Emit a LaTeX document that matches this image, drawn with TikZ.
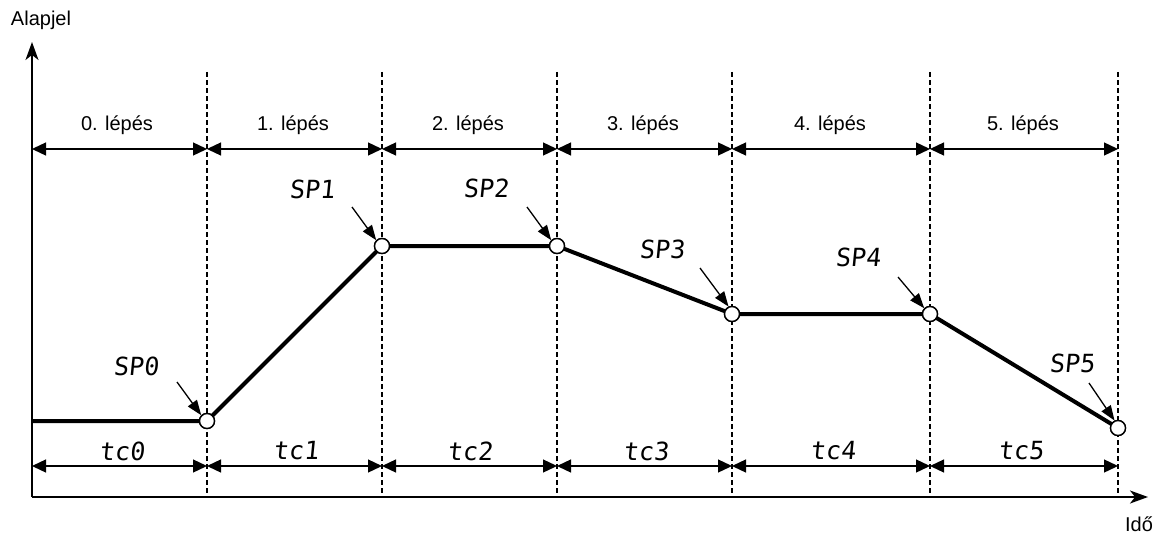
\documentclass[tikz,border=0pt]{standalone}
\usepackage{fontspec}
\setmainfont{Liberation Sans}
\newfontfamily\segfont[FakeSlant=0.1]{DejaVu Sans Mono}
\usetikzlibrary{arrows.meta}
\begin{document}
\begin{tikzpicture}[x=1pt,y=-1pt,
  axis/.style={line width=1.4pt,-{Stealth[length=18pt,width=13pt,inset=5pt]}},
  dim/.style={line width=1.3pt,{Triangle[length=14pt,width=13pt]}-{Triangle[length=14pt,width=13pt]}},
  guide/.style={line width=1.7pt,dash pattern=on 5pt off 3pt},
  profile/.style={line width=4pt},
  pt/.style={circle,draw,fill=white,line width=1.4pt,minimum size=15pt,inner sep=0pt},
  ptr/.style={line width=1.3pt,-{Triangle[length=15pt,width=11pt]}},
  seg/.style={font=\segfont\fontsize{25}{25}\selectfont,inner sep=0pt},
  lbl/.style={font=\fontsize{20}{20}\selectfont,inner sep=0pt}]
\useasboundingbox (0,0) rectangle (1156,535);

% axes
\coordinate (O) at (32,497);
\coordinate (Ytip) at (32,42);
\coordinate (Xtip) at (1148,497);
\draw[axis] (O) -- (Ytip);
\draw[axis] (O) -- (Xtip);
\node[lbl] (ylab) at (41,20) {Alapjel};
\node[lbl] (xlab) at (1139,524) {Idő};

% step boundaries
\foreach \i/\x in {1/207,2/382,3/557,4/732,5/930,6/1118}{
  \coordinate (g\i top) at (\x,72);
  \coordinate (g\i bot) at (\x,497);
  \draw[guide] (g\i top) -- (g\i bot);
  \coordinate (u\i) at (\x,149);
  \coordinate (w\i) at (\x,466);
}
\coordinate (u0) at (32,149);
\coordinate (w0) at (32,466);

% dimension arrows
\foreach \a/\b in {0/1,1/2,2/3,3/4,4/5,5/6}{
  \draw[dim] (u\a) -- (u\b);
  \draw[dim] (w\a) -- (w\b);
}

% step labels
\node[lbl] (L0) at (117,125) {0. lépés};
\node[lbl] (L1) at (293,125) {1. lépés};
\node[lbl] (L2) at (468,125) {2. lépés};
\node[lbl] (L3) at (643,125) {3. lépés};
\node[lbl] (L4) at (830,125) {4. lépés};
\node[lbl] (L5) at (1023,125) {5. lépés};

% time labels
\node[seg] (T0) at (122,451) {tc0};
\node[seg] (T1) at (296,451) {tc1};
\node[seg] (T2) at (470,451) {tc2};
\node[seg] (T3) at (646,451) {tc3};
\node[seg] (T4) at (833,451) {tc4};
\node[seg] (T5) at (1021,451) {tc5};

% profile
\coordinate (s) at (32,421);
\node[pt] (p0) at (207,421) {};
\node[pt] (p1) at (382,246) {};
\node[pt] (p2) at (557,246) {};
\node[pt] (p3) at (732,314) {};
\node[pt] (p4) at (930,314) {};
\node[pt] (p5) at (1118,428) {};
\draw[profile] (s) -- (p0.center) -- (p1.center) -- (p2.center) -- (p3.center) -- (p4.center) -- (p5.center);
\foreach \i in {0,...,5}{ \node[pt] at (p\i) {}; }

% set point labels
\node[seg] (S0) at (136,366) {SP0};
\node[seg] (S1) at (312,189) {SP1};
\node[seg] (S2) at (486,188) {SP2};
\node[seg] (S3) at (662,249) {SP3};
\node[seg] (S4) at (858,257) {SP4};
\node[seg] (S5) at (1072,363) {SP5};

% pointer arrows
\coordinate (a0) at (177,382);
\coordinate (a1) at (352,207);
\coordinate (a2) at (527,207);
\coordinate (a3) at (700,268);
\coordinate (a4) at (898,277);
\coordinate (a5) at (1089,383);
\draw[ptr] (a0) -- (p0.135);
\draw[ptr] (a1) -- (p1.135);
\draw[ptr] (a2) -- (p2.135);
\draw[ptr] (a3) -- (p3.115);
\draw[ptr] (a4) -- (p4.135);
\draw[ptr] (a5) -- (p5.115);
\end{tikzpicture}
\end{document}
